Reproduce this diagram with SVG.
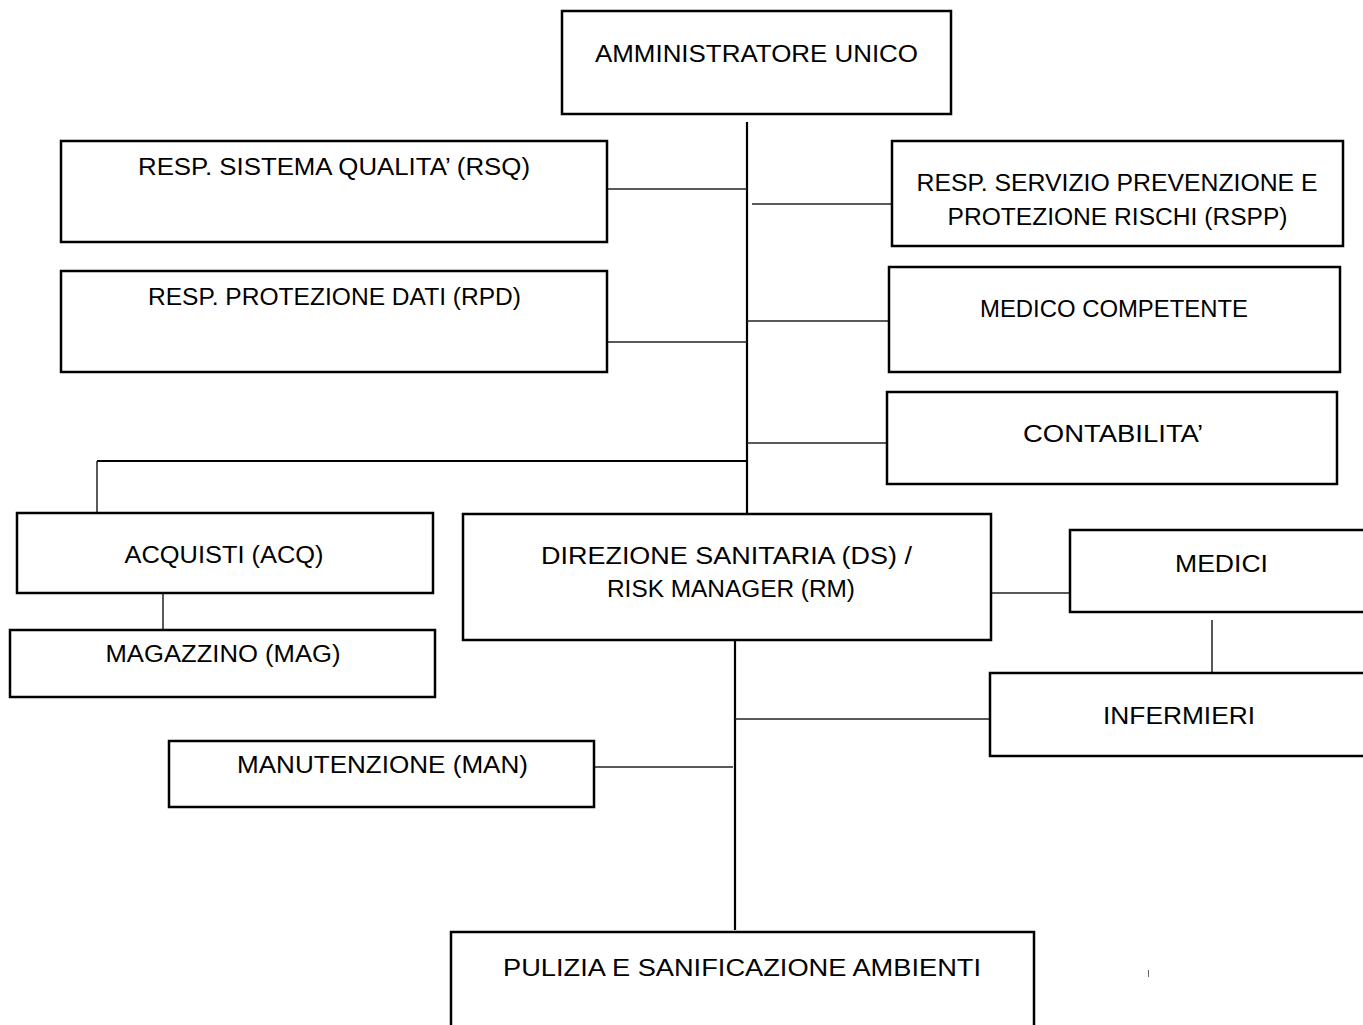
<svg xmlns="http://www.w3.org/2000/svg" width="1363" height="1025" viewBox="0 0 1363 1025">
<style>
.box{fill:#fff;stroke:#000;stroke-width:2.5}
.t{font-family:"Liberation Sans",Arial,sans-serif;font-size:23px;fill:#000;text-anchor:middle}
.c{stroke:#222;stroke-width:1.5;fill:none}
.m{stroke:#000;stroke-width:2.2;fill:none}
</style>
<rect width="1363" height="1025" fill="#fff"/>
<g id="connectors">
<line class="m" x1="747" y1="122" x2="747" y2="514"/>
<line class="c" x1="607" y1="189" x2="747" y2="189"/>
<line class="c" x1="752" y1="204" x2="891" y2="204"/>
<line class="c" x1="747" y1="321" x2="889" y2="321"/>
<line class="c" x1="607" y1="342" x2="747" y2="342"/>
<line class="c" x1="747" y1="443" x2="890" y2="443"/>
<line class="m" x1="97" y1="461" x2="747" y2="461"/>
<line class="c" x1="97" y1="461" x2="97" y2="513"/>
<line class="c" x1="163" y1="593" x2="163" y2="630"/>
<line class="c" x1="987" y1="593" x2="1070" y2="593"/>
<line class="c" x1="1212" y1="620" x2="1212" y2="673"/>
<line class="m" x1="735" y1="640" x2="735" y2="930"/>
<line class="c" x1="735" y1="719" x2="990" y2="719"/>
<line class="c" x1="594" y1="767" x2="733" y2="767"/>
<line stroke="#666" stroke-width="1" x1="1148.5" y1="970" x2="1148.5" y2="977"/>
</g>
<g id="au"><rect class="box" x="562" y="11" width="389" height="103"/><text class="t" x="756.5" y="62" textLength="323" lengthAdjust="spacingAndGlyphs">AMMINISTRATORE UNICO</text></g>
<g id="rsq"><rect class="box" x="61" y="141" width="546" height="101"/><text class="t" x="334" y="175" textLength="392" lengthAdjust="spacingAndGlyphs">RESP. SISTEMA QUALITA’ (RSQ)</text></g>
<g id="rpd"><rect class="box" x="61" y="271" width="546" height="101"/><text class="t" x="334.5" y="305" textLength="373" lengthAdjust="spacingAndGlyphs">RESP. PROTEZIONE DATI (RPD)</text></g>
<g id="rspp"><rect class="box" x="892" y="141" width="451" height="105"/><text class="t" x="1117" y="191" textLength="401" lengthAdjust="spacingAndGlyphs">RESP. SERVIZIO PREVENZIONE E</text><text class="t" x="1117.5" y="225" textLength="340" lengthAdjust="spacingAndGlyphs">PROTEZIONE RISCHI (RSPP)</text></g>
<g id="mc"><rect class="box" x="889" y="267" width="451" height="105"/><text class="t" x="1114" y="317" textLength="268" lengthAdjust="spacingAndGlyphs">MEDICO COMPETENTE</text></g>
<g id="cont"><rect class="box" x="887" y="392" width="450" height="92"/><text class="t" x="1113" y="442" textLength="180" lengthAdjust="spacingAndGlyphs">CONTABILITA’</text></g>
<g id="acq"><rect class="box" x="17" y="513" width="416" height="80"/><text class="t" x="224" y="563" textLength="199" lengthAdjust="spacingAndGlyphs">ACQUISTI (ACQ)</text></g>
<g id="mag"><rect class="box" x="10" y="630" width="425" height="67"/><text class="t" x="223" y="662" textLength="235" lengthAdjust="spacingAndGlyphs">MAGAZZINO (MAG)</text></g>
<g id="ds"><rect class="box" x="463" y="514" width="528" height="126"/><text class="t" x="726.5" y="564" textLength="371" lengthAdjust="spacingAndGlyphs">DIREZIONE SANITARIA (DS) /</text><text class="t" x="731" y="597" textLength="248" lengthAdjust="spacingAndGlyphs">RISK MANAGER (RM)</text></g>
<g id="medici"><rect class="box" x="1070" y="530" width="300" height="82"/><text class="t" x="1221.5" y="572" textLength="93" lengthAdjust="spacingAndGlyphs">MEDICI</text></g>
<g id="infermieri"><rect class="box" x="990" y="673" width="380" height="83"/><text class="t" x="1179" y="724" textLength="152" lengthAdjust="spacingAndGlyphs">INFERMIERI</text></g>
<g id="man"><rect class="box" x="169" y="741" width="425" height="66"/><text class="t" x="382.5" y="773" textLength="291" lengthAdjust="spacingAndGlyphs">MANUTENZIONE (MAN)</text></g>
<g id="pulizia"><rect class="box" x="451" y="932" width="583" height="110"/><text class="t" x="742" y="976" textLength="478" lengthAdjust="spacingAndGlyphs">PULIZIA E SANIFICAZIONE AMBIENTI</text></g>
</svg>
